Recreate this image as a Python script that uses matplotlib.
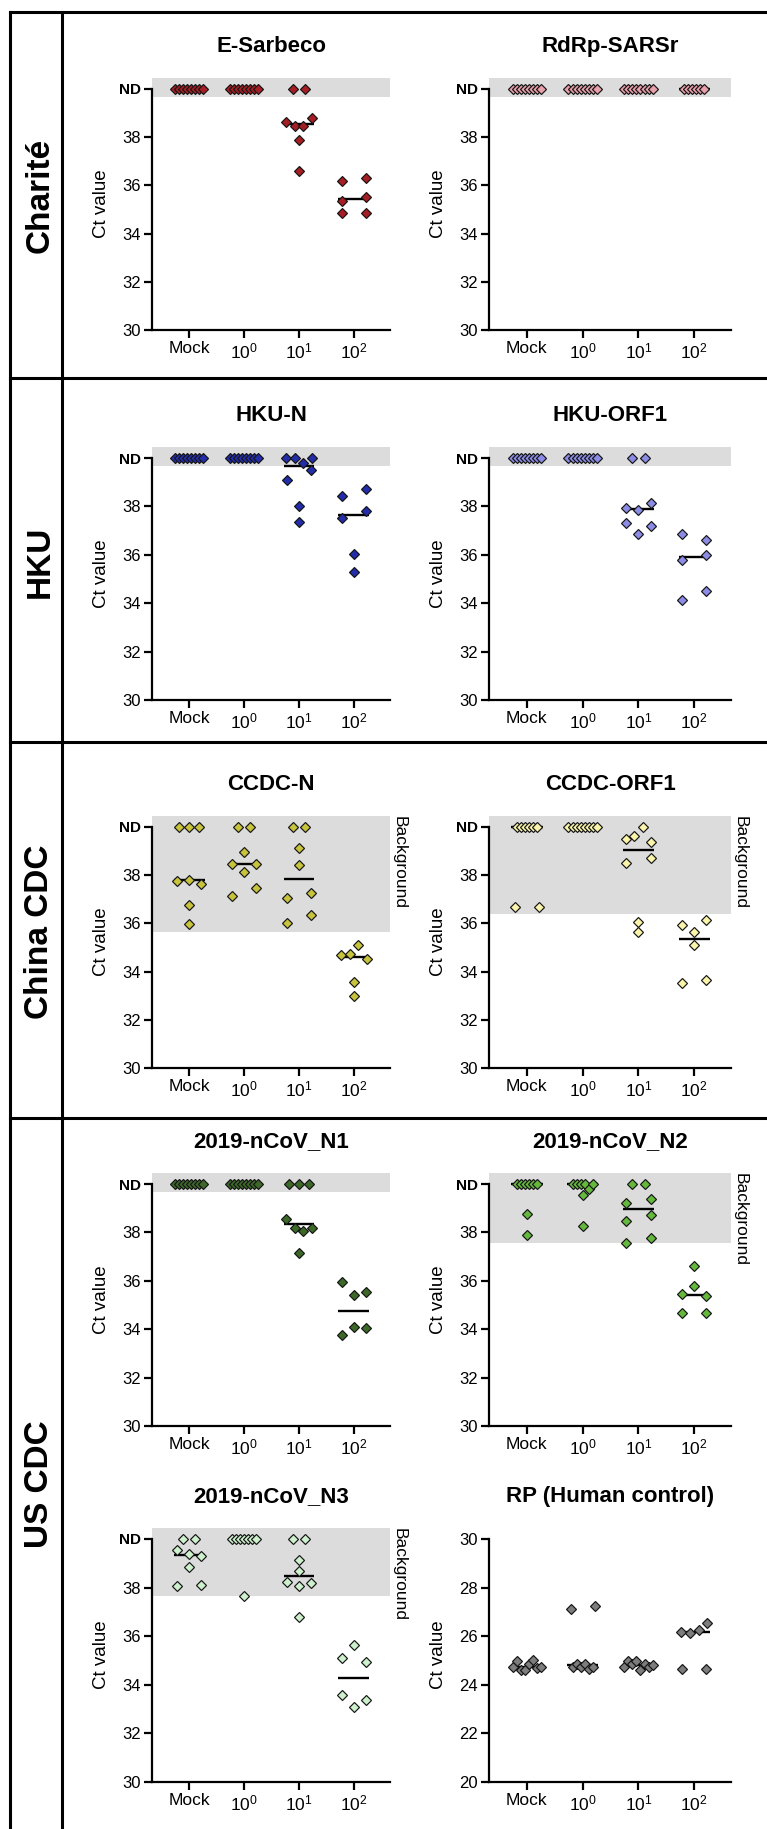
import matplotlib
matplotlib.use("Agg")
import matplotlib.pyplot as plt
import numpy as np
from matplotlib.lines import Line2D

plt.rcParams["font.family"] = ["Liberation Sans", "DejaVu Sans"]
plt.rcParams["mathtext.fontset"] = "custom"
plt.rcParams["mathtext.rm"] = "Liberation Sans"
plt.rcParams["mathtext.it"] = "Liberation Sans:italic"
plt.rcParams["mathtext.bf"] = "Liberation Sans:bold"

ND = 40  # "not detected" is drawn at Ct 40
groups = ["Mock", "10$^{0}$", "10$^{1}$", "10$^{2}$"]
sites = ["Charité", "HKU", "China CDC", "US CDC"]

# Ct values per group (Mock, 10^0, 10^1, 10^2), listed row by row, left to right
e_sarbeco = [[ND] * 8, [ND] * 8,
             [ND, ND, 38.64, 38.46, 38.46, 38.78, 37.9, 36.6],
             [36.2, 36.29, 35.36, 35.5, 34.87, 34.87]]
rdrp_sarsr = [[ND] * 8, [ND] * 8, [ND] * 8, [ND] * 6]
hku_n = [[ND] * 8, [ND] * 8,
         [ND, ND, 39.8, ND, 39.1, 39.5, 38.0, 37.36],
         [38.42, 38.7, 37.52, 37.81, 36.02, 35.27]]
hku_orf1 = [[ND] * 8, [ND] * 8,
            [ND, ND, 37.94, 37.84, 38.12, 37.32, 37.18, 36.88],
            [36.88, 36.63, 35.8, 35.98, 34.13, 34.5]]
ccdc_n = [[ND, ND, ND, 37.76, 37.81, 37.65, 36.75, 35.99],
          [ND, ND, 38.96, 38.48, 38.13, 38.48, 37.12, 37.47],
          [ND, ND, 39.14, 38.41, 37.07, 37.26, 36.02, 36.33],
          [34.67, 34.74, 35.09, 34.51, 33.57, 32.97]]
ccdc_orf1 = [[ND] * 6 + [36.67, 36.67],
             [ND] * 8,
             [39.51, 39.61, ND, 39.37, 38.5, 38.72, 35.63, 36.07],
             [35.93, 36.14, 35.1, 35.63, 33.54, 33.65]]
ncov_n1 = [[ND] * 8, [ND] * 8,
           [ND, ND, ND, 38.55, 38.18, 38.04, 38.18, 37.14],
           [35.93, 35.41, 35.52, 33.77, 34.11, 34.03]]
ncov_n2 = [[ND] * 6 + [38.76, 37.91],
           [ND, ND, ND, ND, 39.81, ND, 39.53, 38.25],
           [ND, ND, 39.22, 39.39, 38.46, 38.71, 37.57, 37.77],
           [36.6, 35.46, 35.78, 35.36, 34.68, 34.68]]
ncov_n3 = [[ND, ND, 39.53, 39.39, 39.31, 38.84, 38.07, 38.12],
           [ND] * 7 + [37.66],
           [ND, ND, 39.15, 38.69, 38.25, 38.07, 38.18, 36.81],
           [35.64, 35.09, 34.95, 33.1, 33.58, 33.37]]
rp_control = [[24.74, 25.0, 24.6, 24.62, 24.85, 25.01, 24.71, 24.74],
              [24.74, 24.85, 24.74, 27.13, 27.26, 24.85, 24.63, 24.74],
              [24.74, 25.0, 24.85, 25.0, 24.62, 24.85, 24.74, 24.8],
              [26.19, 26.12, 26.26, 26.54, 24.63, 24.63]]

# lower edge of the grey "background" band
bg_e_sarbeco = bg_rdrp = bg_hku_n = bg_hku_orf1 = bg_n1 = 39.65
bg_ccdc_n, bg_ccdc_orf1, bg_n2, bg_n3 = 35.64, 36.37, 37.56, 37.65

# title, data, colour, band, y low, row, column, "Background" label
panels = [
    ("E-Sarbeco", e_sarbeco, "#a51e24", bg_e_sarbeco, 30, 0, 0, False),
    ("RdRp-SARSr", rdrp_sarsr, "#e8a0aa", bg_rdrp, 30, 0, 1, False),
    ("HKU-N", hku_n, "#232daa", bg_hku_n, 30, 1, 0, False),
    ("HKU-ORF1", hku_orf1, "#8c8ce6", bg_hku_orf1, 30, 1, 1, False),
    ("CCDC-N", ccdc_n, "#c8c33c", bg_ccdc_n, 30, 2, 0, True),
    ("CCDC-ORF1", ccdc_orf1, "#faf5aa", bg_ccdc_orf1, 30, 2, 1, True),
    ("2019-nCoV_N1", ncov_n1, "#3c6928", bg_n1, 30, 3, 0, False),
    ("2019-nCoV_N2", ncov_n2, "#64b93c", bg_n2, 30, 3, 1, True),
    ("2019-nCoV_N3", ncov_n3, "#cdf0cd", bg_n3, 30, 4, 0, True),
    ("RP (Human control)", rp_control, "#7d7d7d", None, 20, 4, 1, False),
]

W, H = 767, 1829
COL_X = [(152, 390), (489, 731)]
ROW_Y = [(89, 330), (458, 700), (827, 1068), (1184, 1426), (1539, 1782)]
PX_CAT = 55.0   # pixels between neighbouring groups
PX_CT = 24.1    # pixels per Ct unit


def row_offsets(n, nd_row):
    if n >= 5:
        step = 4.0
    elif n == 4:
        step = 8.5
    elif n == 3:
        step = 10.0 if nd_row else 12.0
    else:
        step = 12.0 if nd_row else 24.0
    return (np.arange(n) - (n - 1) / 2) * step


def swarm(vals):
    # Prism-like dot layout: near-equal values share a centred row
    order = sorted(range(len(vals)), key=lambda i: -vals[i])
    rows = []
    for i in order:
        if rows and vals[rows[-1][0]] - vals[i] <= 0.43:
            rows[-1].append(i)
        else:
            rows.append([i])
    placed = []
    for r in rows:
        r = sorted(r)
        off = row_offsets(len(r), max(vals[i] for i in r) >= ND)
        if placed:
            pr, po = placed[-1]
            hit = any(abs(a - b) + abs(vals[i] - vals[j]) * PX_CT < 10
                      for i, a in zip(r, off) for j, b in zip(pr, po))
            if hit:
                r = sorted(pr + r)
                placed[-1] = (r, row_offsets(len(r), max(vals[i] for i in r) >= ND))
                continue
        placed.append((r, off))
    x = np.zeros(len(vals))
    for r, off in placed:
        x[r] = off / PX_CAT
    return x


fig = plt.figure(figsize=(W / 100, H / 100), dpi=100)

for title, data, color, band, lo, row, col, bg_label in panels:
    (x0, x1), (ytop, ybot) = COL_X[col], ROW_Y[row]
    top = ytop - 0.45 * (ybot - ytop) / 10
    ax = fig.add_axes([x0 / W, 1 - ybot / H, (x1 - x0) / W, (ybot - top) / H])
    ax.set_xlim(-0.68, 3.66)
    ax.set_ylim(lo, lo + 10.45)
    if band is not None:
        ax.axhspan(band, lo + 10.45, color="#dcdcdc", lw=0, zorder=0)
    for g, vals in enumerate(data):
        med = np.median(vals)
        ax.plot([g - 0.28, g + 0.28], [med, med], color="black", lw=1.7,
                solid_capstyle="butt", zorder=2)
        ax.plot(g + swarm(vals), vals, "D", ms=5.6, mfc=color, mec="#151515",
                mew=0.85, ls="none", zorder=3, clip_on=False)

    for s in ("top", "right"):
        ax.spines[s].set_visible(False)
    for s in ("left", "bottom"):
        ax.spines[s].set_linewidth(1.6)
    ax.spines["left"].set_bounds(lo, lo + 10)
    ax.tick_params(width=1.6, length=6, pad=2, labelsize=12)
    ax.set_xticks(range(4))
    ax.set_xticklabels(groups, fontsize=12.5)
    yt = np.arange(lo, lo + 11, 2)
    ax.set_yticks(yt)
    labels = [str(int(v)) for v in yt]
    if lo == 30:
        labels[-1] = "ND"
    ax.set_yticklabels(labels)
    if lo == 30:
        nd_lab = ax.get_yticklabels()[-1]
        nd_lab.set_fontweight("bold")
        nd_lab.set_fontsize(11)
    ax.set_ylabel("Ct value", fontsize=13.5)
    ax.yaxis.set_label_coords(-42 / (x1 - x0), 0.5)

    if bg_label:
        ax.text(1 + 2 / (x1 - x0), 1.0, "Background", transform=ax.transAxes,
                rotation=270, ha="left", va="top", fontsize=12.5)

    fig.text((x0 + x1) / 2 / W, 1 - (ytop - 42.5) / H, title, ha="center",
             va="center", fontsize=16, fontweight="bold")

# site labels and the frame around them
for name, yc in zip(sites, [195, 562, 932, 1484]):
    fig.text(40 / W, 1 - yc / H, name, rotation=90, ha="center", va="center",
             fontsize=24, fontweight="bold")

frame = [((10, W), (11.5, 11.5)), ((10, 10), (11.5, H)), ((62, 62), (11.5, H))]
for y in (378, 742, 1118):
    frame.append(((10, W), (y, y)))
for xs, ys in frame:
    fig.add_artist(Line2D([x / W for x in xs], [1 - y / H for y in ys],
                          transform=fig.transFigure, color="black", lw=2.2))

fig.savefig("out.png", dpi=100)
